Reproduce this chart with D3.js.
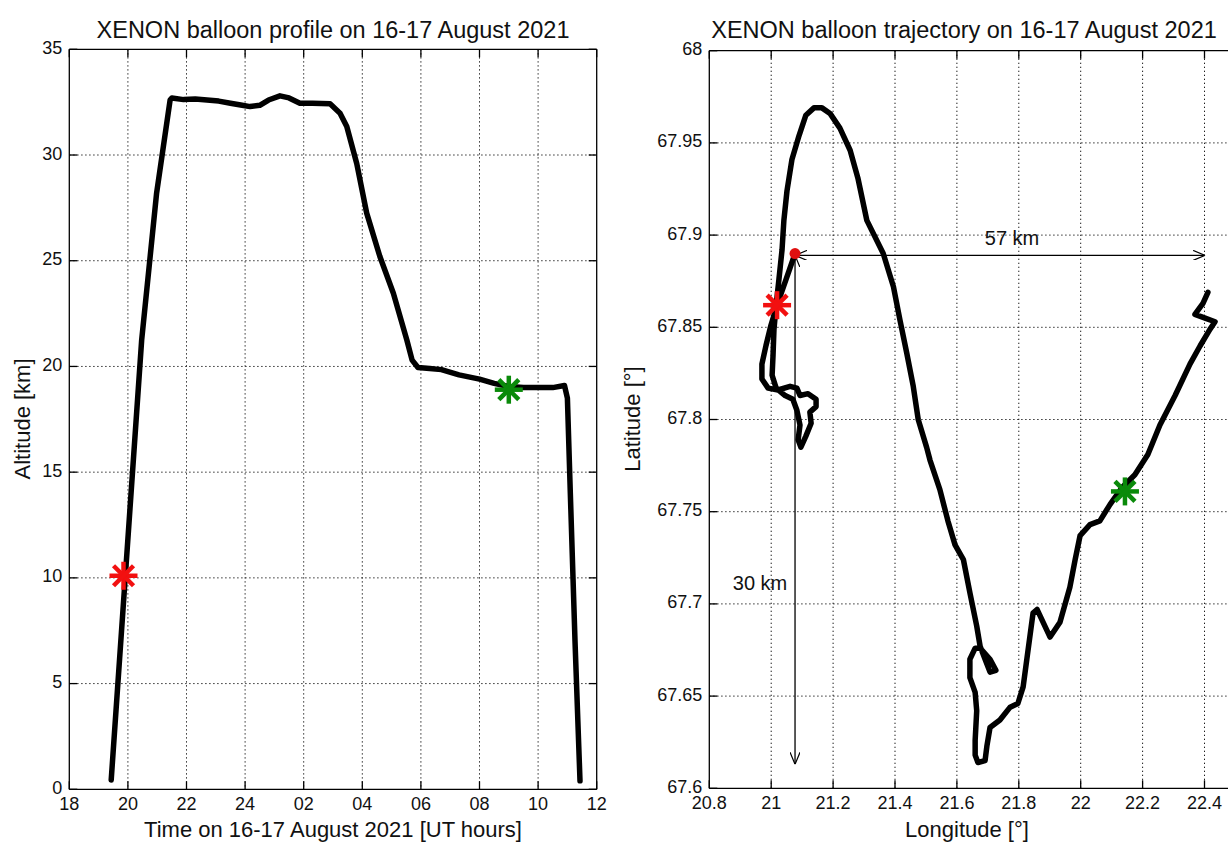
<!DOCTYPE html>
<html>
<head>
<meta charset="utf-8">
<script src="https://cdn.jsdelivr.net/npm/d3@7/dist/d3.min.js"></script>
<style>
  html, body { margin: 0; padding: 0; background: #fff; }
  svg { display: block; }
  text { font-family: "Liberation Sans", Arial, Helvetica, sans-serif; fill: #111; }
</style>
</head>
<body>
<svg id="chart" width="1228" height="843"></svg>
<script>
// ---- Flight profile: time (UT hours since 00 on 16 Aug) vs altitude (km)
const profileHours = [19.43, 20.47, 20.98, 21.44, 21.50, 21.9, 22.3, 22.7, 23.1, 23.5, 23.9, 24.17, 24.5, 24.8, 25.19, 25.5, 25.87, 26.3, 26.9, 27.24, 27.47, 27.81, 28.15, 28.6, 29.06, 29.52, 29.7, 29.9, 30.3, 30.7, 31.3, 32.0, 32.5, 33.0, 33.5, 34.0, 34.5, 34.9, 35.0, 35.1, 35.26, 35.43];
const profileAltKm = [0.44, 21.25, 28.2, 32.6, 32.7, 32.62, 32.65, 32.6, 32.55, 32.45, 32.35, 32.29, 32.35, 32.6, 32.8, 32.7, 32.45, 32.45, 32.42, 31.98, 31.35, 29.6, 27.25, 25.2, 23.46, 21.25, 20.3, 19.95, 19.9, 19.85, 19.6, 19.4, 19.2, 19.05, 19.0, 19.0, 19.0, 19.1, 18.5, 14.0, 7.0, 0.4];
const timeTicks = [18, 20, 22, 24, 26, 28, 30, 32, 34, 36];
const timeTickLabels = ["18", "20", "22", "24", "02", "04", "06", "08", "10", "12"];
const altTicks = [0, 5, 10, 15, 20, 25, 30, 35];
// event markers on the profile
const profileRedStar = [19.85, 10.1];
const profileGreenStar = [33.0, 18.9];

// ---- Ground track: longitude / latitude (degrees)
const trackLon = [21.077, 21.048, 21.019, 20.999, 20.983, 20.970, 20.970, 20.990, 21.022, 21.061, 21.083, 21.093, 21.119, 21.145, 21.145, 21.125, 21.129, 21.112, 21.096, 21.087, 21.093, 21.083, 21.070, 21.045, 21.016, 21.003, 21.006, 21.009, 21.016, 21.025, 21.035, 21.041, 21.051, 21.067, 21.090, 21.112, 21.138, 21.164, 21.190, 21.222, 21.255, 21.280, 21.309, 21.362, 21.395, 21.416, 21.438, 21.459, 21.475, 21.502, 21.513, 21.545, 21.571, 21.594, 21.621, 21.642, 21.664, 21.675, 21.691, 21.707, 21.726, 21.707, 21.675, 21.659, 21.642, 21.642, 21.659, 21.664, 21.659, 21.659, 21.668, 21.691, 21.697, 21.707, 21.739, 21.772, 21.797, 21.814, 21.826, 21.846, 21.859, 21.901, 21.933, 21.965, 21.982, 21.998, 22.030, 22.062, 22.095, 22.133, 22.175, 22.217, 22.256, 22.305, 22.353, 22.386, 22.418, 22.434, 22.402, 22.369, 22.395, 22.411];
const trackLat = [67.890, 67.876, 67.862, 67.851, 67.840, 67.830, 67.822, 67.817, 67.816, 67.818, 67.817, 67.813, 67.814, 67.811, 67.807, 67.804, 67.798, 67.791, 67.785, 67.789, 67.797, 67.805, 67.811, 67.813, 67.817, 67.824, 67.835, 67.849, 67.862, 67.876, 67.892, 67.908, 67.924, 67.941, 67.954, 67.965, 67.969, 67.969, 67.966, 67.958, 67.946, 67.931, 67.908, 67.890, 67.872, 67.854, 67.836, 67.818, 67.800, 67.785, 67.778, 67.762, 67.745, 67.732, 67.724, 67.706, 67.688, 67.677, 67.670, 67.663, 67.664, 67.670, 67.676, 67.676, 67.670, 67.660, 67.652, 67.642, 67.626, 67.618, 67.614, 67.615, 67.623, 67.633, 67.637, 67.644, 67.646, 67.655, 67.670, 67.695, 67.697, 67.682, 67.690, 67.709, 67.724, 67.737, 67.743, 67.745, 67.754, 67.763, 67.770, 67.781, 67.797, 67.813, 67.830, 67.840, 67.849, 67.853, 67.855, 67.857, 67.863, 67.869];
const lonTicks = [20.8, 21, 21.2, 21.4, 21.6, 21.8, 22, 22.2, 22.4];
const latTicks = [67.6, 67.65, 67.7, 67.75, 67.8, 67.85, 67.9, 67.95, 68];
const launchSite = [21.077, 67.890];
const trackRedStar = [21.019, 67.862];
const trackGreenStar = [22.143, 67.761];
// distance annotations: east-west and north-south extents
const ewArrow = { lon: [21.077, 22.402], lat: [67.889, 67.889], label: "57 km" };
const nsArrow = { lon: [21.077, 21.077], lat: [67.889, 67.613], label: "30 km" };

const svg = d3.select("#chart");
svg.append("rect").attr("width", 1228).attr("height", 843).attr("fill", "#fff");

const defs = svg.append("defs");
function arrowMarker(id, orient) {
  defs.append("marker")
    .attr("id", id).attr("viewBox", "0 0 12 10").attr("refX", 12).attr("refY", 5)
    .attr("markerWidth", 12).attr("markerHeight", 10).attr("markerUnits", "userSpaceOnUse")
    .attr("orient", orient)
    .append("path").attr("d", "M0,0 L12,5 L0,10").attr("fill", "none")
    .attr("stroke", "#000").attr("stroke-width", 1.2);
}
arrowMarker("arrowEnd", "auto");
arrowMarker("arrowStart", "auto-start-reverse");

const TICK_FONT = 18, LABEL_FONT = 22, TITLE_FONT = 23.5, NOTE_FONT = 20, TICK_LEN = 8;

// generic axes: box, inward ticks, dotted grid
function drawAxes(g, x, y, xt, xtl, yt, ytl, opts) {
  const [x0, x1] = x.range();
  const [y1, y0] = y.range();
  const right = opts.right;
  // grid
  const grid = g.append("g").attr("stroke", "#000").attr("stroke-width", 1)
    .attr("stroke-dasharray", "1.2,2.8");
  xt.forEach(v => {
    const px = x(v);
    if (Math.abs(px - x0) < 1 || Math.abs(px - x1) < 1) return;
    grid.append("line").attr("x1", px).attr("x2", px).attr("y1", y0).attr("y2", y1);
  });
  yt.forEach(v => {
    const py = y(v);
    if (Math.abs(py - y0) < 1 || Math.abs(py - y1) < 1) return;
    grid.append("line").attr("x1", x0).attr("x2", right).attr("y1", py).attr("y2", py);
  });
  // box
  const box = g.append("g").attr("stroke", "#000").attr("stroke-width", 1.3).attr("fill", "none");
  box.append("line").attr("x1", x0).attr("x2", right).attr("y1", y0).attr("y2", y0);
  box.append("line").attr("x1", x0).attr("x2", right).attr("y1", y1).attr("y2", y1);
  box.append("line").attr("x1", x0).attr("x2", x0).attr("y1", y0).attr("y2", y1);
  if (opts.closeRight) box.append("line").attr("x1", x1).attr("x2", x1).attr("y1", y0).attr("y2", y1);
  // ticks
  xt.forEach(v => {
    const px = x(v);
    box.append("line").attr("x1", px).attr("x2", px).attr("y1", y1).attr("y2", y1 - TICK_LEN);
    box.append("line").attr("x1", px).attr("x2", px).attr("y1", y0).attr("y2", y0 + TICK_LEN);
  });
  yt.forEach(v => {
    const py = y(v);
    box.append("line").attr("x1", x0).attr("x2", x0 + TICK_LEN).attr("y1", py).attr("y2", py);
    if (opts.closeRight) box.append("line").attr("x1", x1).attr("x2", x1 - TICK_LEN).attr("y1", py).attr("y2", py);
  });
  // tick labels
  xt.forEach((v, i) => {
    g.append("text").attr("x", x(v)).attr("y", y1 + 21).attr("text-anchor", "middle")
      .attr("font-size", TICK_FONT).text(xtl[i]);
  });
  yt.forEach((v, i) => {
    g.append("text").attr("x", x0 - 7).attr("y", y(v) + 4.5).attr("text-anchor", "end")
      .attr("font-size", TICK_FONT).text(ytl[i]);
  });
}

// asterisk marker: plus and cross combined
function asterisk(g, cx, cy, color) {
  const r = 14, d = 10;
  const p = [[0, -r, 0, r], [-r, 0, r, 0], [-d, -d, d, d], [-d, d, d, -d]];
  const s = g.append("g").attr("stroke", color).attr("stroke-width", 4.5).attr("stroke-linecap", "butt");
  p.forEach(a => s.append("line").attr("x1", cx + a[0]).attr("y1", cy + a[1]).attr("x2", cx + a[2]).attr("y2", cy + a[3]));
}

// ---------------- Left panel: altitude profile ----------------
{
  const g = svg.append("g");
  const x = d3.scaleLinear().domain([18, 36]).range([69.3, 596.7]);
  const y = d3.scaleLinear().domain([0, 35]).range([789.3, 49.3]);
  drawAxes(g, x, y, timeTicks, timeTickLabels, altTicks, altTicks.map(String), { right: 596.7, closeRight: true });

  const line = d3.line().x((d, i) => x(profileHours[i])).y((d, i) => y(profileAltKm[i]));
  g.append("path").datum(profileHours).attr("d", line).attr("fill", "none")
    .attr("stroke", "#000").attr("stroke-width", 5.5).attr("stroke-linejoin", "round").attr("stroke-linecap", "round");

  asterisk(g, x(profileRedStar[0]), y(profileRedStar[1]), "#f21010");
  asterisk(g, x(profileGreenStar[0]), y(profileGreenStar[1]), "#0a8a0a");

  g.append("text").attr("x", 333).attr("y", 38).attr("text-anchor", "middle")
    .attr("font-size", TITLE_FONT).text("XENON balloon profile on 16-17 August 2021");
  g.append("text").attr("x", 333).attr("y", 837).attr("text-anchor", "middle")
    .attr("font-size", LABEL_FONT).text("Time on 16-17 August 2021 [UT hours]");
  g.append("text").attr("transform", "translate(30,419) rotate(-90)").attr("text-anchor", "middle")
    .attr("font-size", LABEL_FONT).text("Altitude [km]");
}

// ---------------- Right panel: ground track ----------------
{
  const g = svg.append("g");
  const x = d3.scaleLinear().domain([20.8, 22.6]).range([709.3, 1266.4]);
  const y = d3.scaleLinear().domain([67.6, 68]).range([788.3, 50.7]);
  drawAxes(g, x, y, lonTicks, lonTicks.map(String), latTicks, latTicks.map(String), { right: 1228, closeRight: false });

  defs.append("clipPath").attr("id", "trackClip").append("rect")
    .attr("x", 709.3).attr("y", 50.7).attr("width", 1228 - 709.3).attr("height", 788.3 - 50.7);
  const plot = g.append("g").attr("clip-path", "url(#trackClip)");

  const line = d3.line().x((d, i) => x(trackLon[i])).y((d, i) => y(trackLat[i]));
  plot.append("path").datum(trackLon).attr("d", line).attr("fill", "none")
    .attr("stroke", "#000").attr("stroke-width", 5.5).attr("stroke-linejoin", "round").attr("stroke-linecap", "round");

  // extent arrows
  [ewArrow, nsArrow].forEach(a => {
    plot.append("line")
      .attr("x1", x(a.lon[0])).attr("y1", y(a.lat[0]))
      .attr("x2", x(a.lon[1])).attr("y2", y(a.lat[1]))
      .attr("stroke", "#000").attr("stroke-width", 1.3)
      .attr("marker-start", "url(#arrowStart)").attr("marker-end", "url(#arrowEnd)");
  });
  g.append("text").attr("x", 1012).attr("y", 245).attr("text-anchor", "middle")
    .attr("font-size", NOTE_FONT).text(ewArrow.label);
  g.append("text").attr("x", 760).attr("y", 590).attr("text-anchor", "middle")
    .attr("font-size", NOTE_FONT).text(nsArrow.label);

  plot.append("circle").attr("cx", x(launchSite[0])).attr("cy", y(launchSite[1])).attr("r", 5.5).attr("fill", "#e01010");
  asterisk(plot, x(trackRedStar[0]), y(trackRedStar[1]), "#f21010");
  asterisk(plot, x(trackGreenStar[0]), y(trackGreenStar[1]), "#0a8a0a");

  g.append("text").attr("x", 964).attr("y", 38).attr("text-anchor", "middle")
    .attr("font-size", TITLE_FONT).text("XENON balloon trajectory on 16-17 August 2021");
  g.append("text").attr("x", 967).attr("y", 837).attr("text-anchor", "middle")
    .attr("font-size", LABEL_FONT).text("Longitude [°]");
  g.append("text").attr("transform", "translate(640,419) rotate(-90)").attr("text-anchor", "middle")
    .attr("font-size", LABEL_FONT).text("Latitude [°]");
}
</script>
</body>
</html>
